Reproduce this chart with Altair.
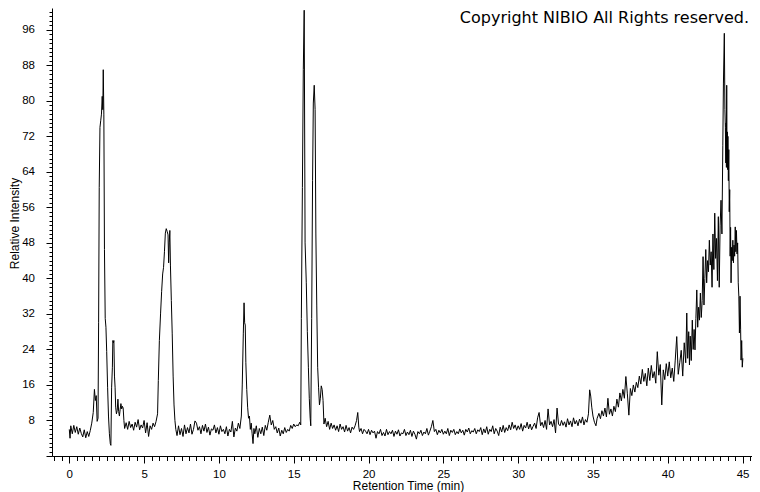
import altair as alt
import pandas as pd

# Retention time (min), relative intensity pairs
seg_start = [(0.0, 6.0), (0.05, 4.0), (0.1, 6.8), (0.2, 5.0), (0.3, 6.9), (0.4, 5.3), (0.5, 6.6), (0.6, 4.9),
             (0.7, 6.3), (0.8, 5.1), (0.9, 4.3), (1.0, 5.9), (1.1, 4.1), (1.2, 5.5), (1.3, 4.4), (1.4, 5.7),
             (1.5, 7.4), (1.6, 9.8), (1.68, 15.0), (1.74, 12.5), (1.8, 13.6), (1.86, 7.8), (1.92, 8.5)]
seg_peak1 = [(1.96, 30.0), (2.0, 60.5), (2.05, 74.0), (2.1, 75.5), (2.15, 77.0), (2.2, 81.0), (2.24, 78.0),
             (2.27, 87.0), (2.31, 77.0), (2.35, 46.5), (2.4, 31.0), (2.45, 29.0), (2.5, 23.5), (2.56, 15.5),
             (2.62, 9.0), (2.68, 5.0), (2.74, 2.8), (2.78, 2.4), (2.83, 15.5), (2.88, 20.0), (2.91, 26.0),
             (2.95, 25.5), (2.98, 26.0), (3.02, 18.0), (3.06, 15.5), (3.1, 11.0), (3.15, 9.5), (3.2, 10.2),
             (3.25, 12.8), (3.3, 10.0), (3.35, 9.0), (3.4, 10.5), (3.45, 11.8), (3.5, 10.6), (3.55, 11.2),
             (3.6, 10.8), (3.65, 8.0), (3.7, 6.2)]
seg_base1 = [(3.8, 7.5), (3.9, 6.0), (4.0, 7.8), (4.1, 6.4), (4.2, 7.2), (4.3, 5.8), (4.4, 7.6), (4.5, 6.5),
             (4.6, 8.2), (4.7, 5.9), (4.8, 7.0), (4.9, 6.3), (5.0, 8.0), (5.1, 5.2), (5.2, 7.5), (5.3, 4.4),
             (5.4, 6.8), (5.5, 6.0), (5.6, 7.4), (5.7, 6.6), (5.8, 7.8)]
seg_peak2 = [(5.9, 9.5), (5.95, 17.0), (6.02, 26.0), (6.1, 32.0), (6.17, 37.0), (6.24, 41.0), (6.3, 42.5),
             (6.36, 46.0), (6.42, 50.2), (6.48, 51.2), (6.54, 50.6), (6.6, 49.8), (6.64, 43.5), (6.68, 48.0),
             (6.72, 50.8), (6.76, 43.0), (6.82, 35.0), (6.88, 27.5), (6.94, 18.0), (7.0, 11.5), (7.06, 8.0),
             (7.12, 6.0)]
seg_base2 = [(7.2, 4.6), (7.3, 6.8), (7.4, 4.8), (7.5, 6.2), (7.6, 4.4), (7.7, 7.0), (7.8, 5.0), (7.9, 6.4),
             (8.0, 5.2), (8.1, 7.2), (8.2, 4.9), (8.3, 6.0), (8.4, 7.9), (8.5, 7.4), (8.6, 5.8), (8.7, 6.6),
             (8.8, 5.0), (8.9, 6.9), (9.0, 5.6), (9.1, 7.2), (9.2, 5.3), (9.3, 6.5), (9.4, 4.7), (9.5, 6.1),
             (9.6, 5.8), (9.7, 7.0), (9.8, 5.2), (9.9, 6.4), (10.0, 4.9), (10.1, 6.8), (10.2, 5.5), (10.3, 6.0),
             (10.4, 5.0), (10.5, 6.6), (10.6, 4.5), (10.7, 6.0), (10.8, 5.4), (10.9, 7.8), (11.0, 4.3),
             (11.1, 6.3), (11.2, 5.6), (11.3, 7.4), (11.4, 6.2)]
seg_peak3 = [(11.5, 9.0), (11.56, 16.0), (11.63, 27.5), (11.68, 34.5), (11.72, 30.0), (11.76, 29.5),
             (11.8, 21.0), (11.86, 15.0), (11.92, 11.0), (11.98, 8.5), (12.04, 9.0), (12.1, 6.0),
             (12.16, 7.4), (12.22, 5.0), (12.28, 2.8), (12.34, 6.2)]
seg_base3 = [(12.4, 5.0), (12.5, 6.8), (12.6, 4.2), (12.7, 6.2), (12.8, 5.0), (12.9, 6.5), (13.0, 4.6),
             (13.1, 6.9), (13.2, 5.8), (13.3, 7.6), (13.4, 9.2), (13.5, 7.0), (13.6, 8.0), (13.7, 6.0),
             (13.8, 6.6), (13.9, 5.2), (14.0, 6.3), (14.1, 4.5), (14.2, 5.8), (14.3, 5.0), (14.4, 6.4),
             (14.5, 5.3), (14.6, 6.0), (14.7, 5.6), (14.8, 6.9), (14.9, 6.2), (15.0, 7.2), (15.1, 6.6),
             (15.2, 7.0), (15.3, 6.8), (15.4, 7.6)]
seg_peak45 = [(15.47, 7.0), (15.51, 31.0), (15.58, 60.5), (15.64, 87.0), (15.7, 100.4), (15.76, 48.0),
              (15.84, 39.0), (15.91, 28.0), (15.98, 20.0), (16.04, 13.0), (16.1, 8.5), (16.14, 6.8),
              (16.2, 31.0), (16.26, 62.0), (16.31, 79.5), (16.37, 83.5), (16.43, 78.0), (16.48, 50.0),
              (16.54, 34.0), (16.6, 20.0), (16.66, 15.5), (16.72, 11.5), (16.78, 13.0), (16.84, 15.8),
              (16.9, 15.0), (16.96, 12.5), (17.02, 7.2)]
seg_base4 = [(17.1, 8.5), (17.2, 6.6), (17.3, 7.8), (17.4, 6.0), (17.5, 7.4), (17.6, 6.2), (17.7, 7.0),
             (17.8, 5.8), (17.9, 6.8), (18.0, 5.5), (18.1, 7.2), (18.2, 6.0), (18.3, 6.6), (18.4, 5.4),
             (18.5, 6.9), (18.6, 5.6), (18.7, 6.4), (18.8, 5.2), (18.9, 6.5), (19.0, 6.0), (19.1, 6.8),
             (19.2, 8.0), (19.28, 9.8), (19.35, 6.5), (19.4, 5.5), (19.5, 6.2), (19.6, 5.0), (19.7, 6.0),
             (19.8, 5.6), (19.9, 5.0), (20.0, 6.0), (20.1, 4.8), (20.2, 5.8), (20.3, 5.2), (20.4, 5.6),
             (20.5, 4.0), (20.6, 5.5), (20.7, 5.0), (20.8, 6.0), (20.9, 4.6), (21.0, 5.3), (21.1, 4.5),
             (21.2, 6.0), (21.3, 4.8), (21.4, 5.5), (21.5, 5.0), (21.6, 5.8), (21.7, 4.4), (21.8, 5.6),
             (21.9, 4.9), (22.0, 5.9), (22.1, 4.5), (22.2, 5.2), (22.3, 5.0), (22.4, 6.0), (22.5, 4.6),
             (22.6, 5.4), (22.7, 4.8), (22.8, 5.8), (22.9, 4.4), (23.0, 5.6), (23.1, 4.9), (23.2, 3.8),
             (23.3, 5.5), (23.4, 5.0), (23.5, 5.8), (23.6, 4.6), (23.7, 5.4), (23.8, 5.0), (23.9, 6.2),
             (24.0, 4.7), (24.1, 5.6), (24.2, 6.6), (24.3, 8.0), (24.4, 5.5), (24.5, 6.0), (24.6, 4.8),
             (24.7, 5.8), (24.8, 5.2), (24.9, 6.0), (25.0, 4.9), (25.1, 5.6), (25.2, 5.0), (25.3, 6.2),
             (25.4, 4.6), (25.5, 5.8), (25.6, 5.3), (25.7, 6.0), (25.8, 4.8), (25.9, 5.5), (26.0, 5.0),
             (26.1, 6.1), (26.2, 5.2), (26.3, 5.8), (26.4, 4.7), (26.5, 6.0), (26.6, 5.4), (26.7, 6.3),
             (26.8, 5.0), (26.9, 5.7), (27.0, 5.4), (27.1, 6.2), (27.2, 5.0), (27.3, 5.9), (27.4, 5.5)]
seg_base5 = [(27.5, 6.4), (27.6, 4.8), (27.7, 6.1), (27.8, 5.2), (27.9, 6.6), (28.0, 4.9), (28.1, 6.0),
             (28.2, 5.5), (28.3, 6.8), (28.4, 5.0), (28.5, 6.2), (28.6, 5.6), (28.7, 4.6), (28.8, 6.5),
             (28.9, 5.4), (29.0, 6.9), (29.1, 5.3), (29.2, 6.4), (29.3, 5.7), (29.4, 7.0), (29.5, 5.9),
             (29.6, 7.6), (29.7, 6.2), (29.8, 7.0), (29.9, 5.8), (30.0, 6.8), (30.1, 6.0), (30.2, 7.3),
             (30.3, 5.6), (30.4, 6.9), (30.5, 6.3), (30.6, 7.6), (30.7, 6.1), (30.8, 7.2), (30.9, 5.9),
             (31.0, 6.7), (31.1, 7.4), (31.2, 6.2), (31.3, 8.6), (31.4, 9.8), (31.5, 6.8), (31.6, 7.6),
             (31.7, 6.4), (31.8, 8.0), (31.9, 6.0), (32.0, 10.6), (32.1, 7.0), (32.2, 7.8), (32.3, 6.6),
             (32.4, 8.2), (32.5, 5.2), (32.6, 10.8), (32.7, 7.2), (32.8, 6.8), (32.9, 8.0), (33.0, 6.9),
             (33.1, 7.7), (33.2, 6.5), (33.3, 8.4), (33.4, 7.0), (33.5, 7.9), (33.6, 6.6), (33.7, 8.6),
             (33.8, 7.2), (33.9, 8.0), (34.0, 6.8), (34.1, 8.3), (34.2, 7.4), (34.3, 8.8), (34.4, 7.0),
             (34.5, 8.2), (34.6, 7.6)]
seg_rise = [(34.7, 9.5), (34.78, 14.9), (34.85, 13.5), (34.92, 11.0), (35.0, 9.0), (35.1, 7.6), (35.2, 6.8),
            (35.28, 8.5), (35.4, 9.6), (35.5, 8.4), (35.6, 10.2), (35.7, 9.0), (35.8, 10.8), (35.9, 8.8),
            (36.0, 13.0), (36.1, 9.4), (36.2, 10.6), (36.3, 9.0), (36.4, 11.2), (36.5, 10.0), (36.6, 12.8),
            (36.7, 11.0), (36.8, 14.2), (36.9, 12.4), (37.0, 15.0), (37.1, 13.0), (37.2, 17.9), (37.3, 14.0),
            (37.4, 9.2), (37.5, 15.2), (37.6, 13.6), (37.7, 16.0), (37.8, 14.4), (37.9, 16.6), (38.0, 15.4),
            (38.1, 18.0), (38.2, 16.2), (38.3, 19.5), (38.4, 16.8), (38.5, 18.6), (38.6, 15.8), (38.7, 19.8),
            (38.8, 17.0), (38.9, 20.4), (39.0, 17.6), (39.1, 19.0), (39.2, 16.4), (39.3, 23.5), (39.4, 18.2),
            (39.5, 20.6), (39.6, 11.5), (39.7, 19.4), (39.8, 17.2), (39.9, 20.8), (40.0, 18.0), (40.1, 21.2),
            (40.2, 17.6), (40.3, 19.8), (40.4, 16.8), (40.5, 21.6), (40.6, 26.9), (40.7, 18.4), (40.8, 21.0)]
seg_end = [(40.9, 23.8), (41.0, 18.0), (41.1, 25.5), (41.2, 21.0), (41.27, 32.2), (41.33, 22.0), (41.4, 28.0),
           (41.45, 20.5), (41.5, 27.0), (41.57, 21.5), (41.64, 30.6), (41.7, 24.0), (41.76, 28.5),
           (41.82, 23.9), (41.88, 31.0), (41.94, 37.4), (42.0, 29.0), (42.06, 33.5), (42.12, 30.6),
           (42.18, 36.7), (42.24, 31.2), (42.3, 35.0), (42.36, 44.9), (42.42, 34.0), (42.48, 40.0),
           (42.54, 46.5), (42.6, 39.0), (42.66, 44.0), (42.72, 41.5), (42.78, 48.6), (42.84, 43.0),
           (42.9, 46.0), (42.96, 38.0), (43.02, 50.0), (43.08, 42.0), (43.14, 54.7), (43.2, 44.5),
           (43.26, 49.0), (43.32, 39.5), (43.38, 53.9), (43.44, 38.0), (43.5, 52.0), (43.56, 57.6),
           (43.62, 50.0), (43.68, 70.0), (43.72, 84.0), (43.78, 95.2), (43.82, 78.0), (43.85, 74.0),
           (43.88, 66.0), (43.9, 75.0), (43.92, 65.0), (43.94, 83.5), (43.96, 66.0), (43.98, 73.0),
           (44.0, 64.5), (44.02, 72.0), (44.05, 62.0), (44.08, 69.0), (44.11, 55.0), (44.14, 60.0),
           (44.17, 45.0), (44.2, 51.5), (44.23, 39.0), (44.27, 47.0), (44.31, 44.0), (44.35, 48.6),
           (44.39, 43.5), (44.43, 47.5), (44.47, 45.0), (44.51, 51.6), (44.55, 46.0), (44.59, 50.8),
           (44.63, 45.5), (44.67, 48.0), (44.71, 39.0), (44.75, 36.0), (44.79, 27.7), (44.83, 36.0),
           (44.87, 28.4), (44.9, 21.6), (44.94, 26.0), (44.98, 20.0), (45.02, 22.0)]

segments = [seg_start, seg_peak1, seg_base1, seg_peak2, seg_base2, seg_peak3, seg_base3,
            seg_peak45, seg_base4, seg_base5, seg_rise, seg_end]
rows = [p for seg in segments for p in seg]
df = pd.DataFrame(rows, columns=["time", "intensity"])

x_ticks = [k * 0.5 for k in range(-2, 92)]
y_ticks = list(range(0, 101))
copyright_text = ["Copyright NIBIO All Rights reserved."]

FONT = "Liberation Sans"

line = alt.Chart(df).mark_line(color="black", strokeWidth=1).encode(
    x=alt.X("time:Q",
            scale=alt.Scale(domain=[-1.156, 45.63], nice=False, zero=False),
            axis=alt.Axis(values=x_ticks, grid=False, domainColor="black", tickColor="black",
                          tickSize={"condition": {"test": "datum.value % 5 === 0", "value": 7}, "value": 4.5},
                          labelExpr="datum.value % 5 === 0 ? '' + datum.value : ''",
                          labelOverlap=False, labelFlush=False, labelPadding=5,
                          labelFont=FONT, labelFontSize=11.5, labelColor="black",
                          title="Retention Time (min)", titleFont=FONT, titleFontSize=12,
                          titleFontWeight="normal", titleColor="black",
                          titleX=356, titleY=29.5, titleBaseline="middle", titleAlign="center")),
    y=alt.Y("intensity:Q",
            scale=alt.Scale(domain=[0, 100.9], nice=False, zero=True),
            axis=alt.Axis(values=y_ticks, grid=False, domainColor="black", tickColor="black",
                          tickSize={"condition": {"test": "datum.value % 8 === 0", "value": 6}, "value": 3},
                          labelExpr="datum.value % 8 === 0 && datum.value > 0 ? '' + datum.value : ''",
                          labelOverlap=False, labelFlush=False, labelPadding=11.5,
                          labelFont=FONT, labelFontSize=11.5, labelColor="black",
                          title="Relative Intensity", titleFont=FONT, titleFontSize=12,
                          titleFontWeight="normal", titleColor="black",
                          titleX=-38, titleY=215, titleBaseline="middle", titleAlign="center")),
)

text = alt.Chart(pd.DataFrame({"label": copyright_text})).mark_text(
    font="DejaVu Sans", fontSize=16, color="black", align="right", baseline="top"
).encode(text="label:N", x=alt.value(697), y=alt.value(2))

chart = alt.layer(line, text).properties(
    width=700, height=448,
    padding={"left": 44, "top": 0, "right": 0, "bottom": 36},
    autosize=alt.AutoSizeParams(type="none"),
).configure_view(stroke=None)

chart.save("out.html", embed_options={"renderer": "svg", "actions": False})
